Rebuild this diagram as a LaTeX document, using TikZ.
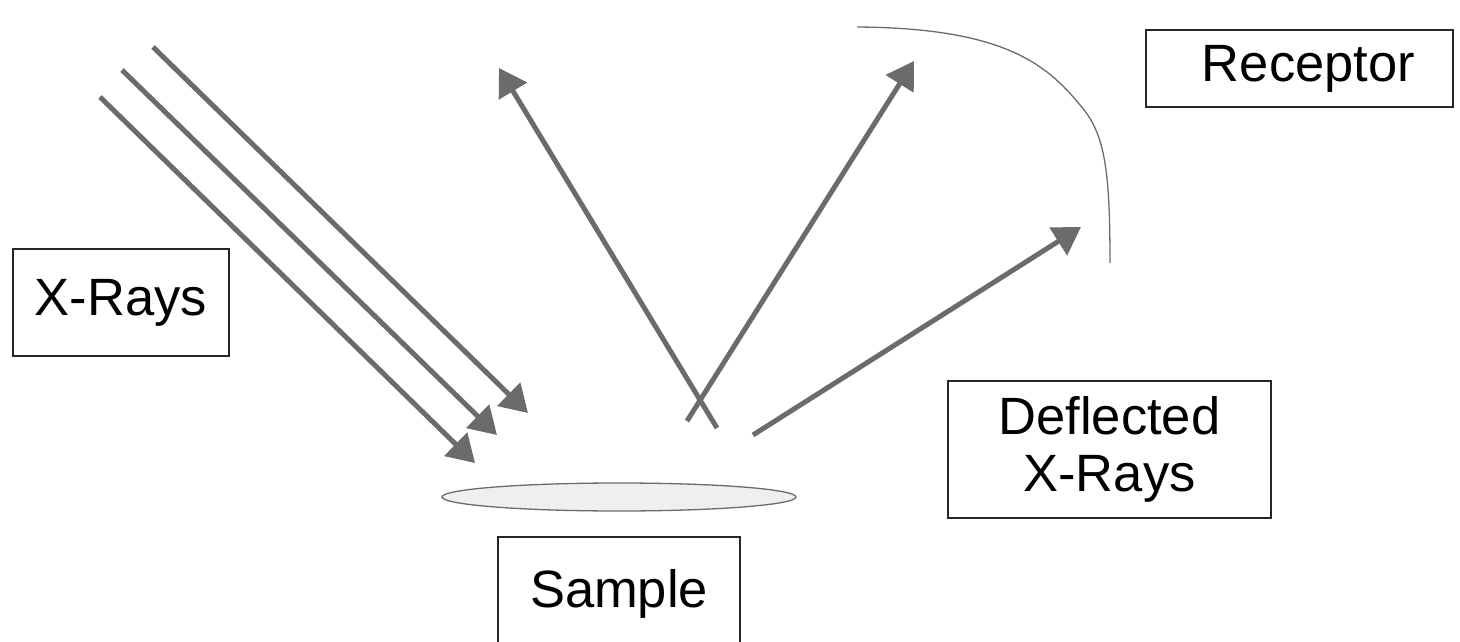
\documentclass[tikz,border=0pt]{standalone}
\usepackage{fontspec}
\setmainfont{Liberation Sans}
\usetikzlibrary{arrows.meta,shapes.geometric}
\definecolor{raygray}{HTML}{6B6B6B}
\definecolor{discfill}{HTML}{EFEFEF}
\begin{document}
\begin{tikzpicture}[x=1pt,y=-1pt,
  labelbox/.style={draw=black!85, line width=1.2pt, inner sep=0pt, align=center,
    font=\fontsize{52.5}{57}\selectfont},
  ray/.style={draw=raygray, line width=5pt, -{Triangle[length=27pt,width=32pt]}},
  edgeline/.style={draw=raygray, line width=1.3pt}]
\useasboundingbox (0,0) rectangle (1460,642);
% boxes
\node[labelbox, minimum width=216pt, minimum height=107pt] (xrays) at (121,302.5) {X-Rays};
\node[labelbox, minimum width=307pt, minimum height=77pt] (receptor) at (1299.5,68.5) {\hspace*{18pt}Receptor};
\node[labelbox, minimum width=323pt, minimum height=137pt] (deflected) at (1109.5,449.5) {Deflected\\X-Rays};
\node[labelbox, minimum width=242pt, minimum height=113pt] (sample) at (619,593.5) {Sample};
% sample disc
\node[ellipse, draw=raygray, line width=1.3pt, fill=discfill, minimum width=354pt, minimum height=28pt, inner sep=0pt] (disc) at (619,497) {};
% incoming rays
\coordinate (a1s) at (100,97);  \coordinate (a1e) at (475,463);
\coordinate (a2s) at (122,70);  \coordinate (a2e) at (497,435);
\coordinate (a3s) at (153,47);  \coordinate (a3e) at (528,413);
\draw[ray] (a1s) -- (a1e);
\draw[ray] (a2s) -- (a2e);
\draw[ray] (a3s) -- (a3e);
% outgoing rays
\coordinate (b1s) at (717,428); \coordinate (b1e) at (499,68);
\coordinate (b2s) at (687,421); \coordinate (b2e) at (914,61);
\coordinate (b3s) at (753,435); \coordinate (b3e) at (1081,227);
\draw[ray] (b1s) -- (b1e);
\draw[ray] (b2s) -- (b2e);
\draw[ray] (b3s) -- (b3e);
% receptor arc
\coordinate (c0) at (857,27);
\coordinate (c1) at (1080,105);
\coordinate (c2) at (1110,263);
\draw[edgeline] (c0) .. controls (1000,28) and (1045,62) .. (c1)
  .. controls (1105,133) and (1110,170) .. (c2);
\end{tikzpicture}
\end{document}
